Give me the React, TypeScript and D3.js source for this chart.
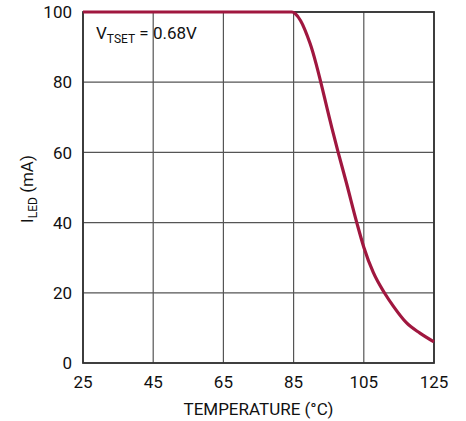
import React from "react";
import * as d3 from "d3";

const temps = [25, 84.5, 85.5, 87, 89.7, 95.9, 97.7, 100, 103, 105, 107.7, 111, 113.4, 117.2, 121, 125];
const currents = [100, 100, 99.5, 97.5, 91, 67, 60, 51.5, 40, 33, 25.8, 19.8, 16.2, 11.4, 8.5, 6];
const xTicks = [25, 45, 65, 85, 105, 125];
const yTicks = [0, 20, 40, 60, 80, 100];

const W = 466, H = 421;
const L = 83, R = 434, T = 12, B = 363;
const FONT = "'Liberation Sans Narrow', 'Roboto', 'Liberation Sans', sans-serif";

export default function App() {
  const x = d3.scaleLinear().domain([25, 125]).range([L, R]);
  const y = d3.scaleLinear().domain([0, 100]).range([B, T]);
  const data = temps.map((t, i) => [t, currents[i]] as [number, number]);
  const line = d3.line<[number, number]>().x(d => x(d[0])).y(d => y(d[1])).curve(d3.curveMonotoneX);

  return (
    <svg width={W} height={H} style={{ position: "absolute", left: 0, top: 0, background: "#fff" }} fontFamily={FONT}>
      {xTicks.map(t => (
        <line key={"gx" + t} x1={x(t)} x2={x(t)} y1={T} y2={B} stroke="#555" strokeWidth={1.2} />
      ))}
      {yTicks.map(t => (
        <line key={"gy" + t} x1={L} x2={R} y1={y(t)} y2={y(t)} stroke="#555" strokeWidth={1.2} />
      ))}
      <rect x={L} y={T} width={R - L} height={B - T} fill="none" stroke="#333" strokeWidth={1.8} />
      <path d={line(data) || ""} fill="none" stroke="#a0173f" strokeWidth={3.2} strokeLinejoin="round" />
      {yTicks.map(t => (
        <text key={"ly" + t} x={72} y={y(t)} dy="0.36em" textAnchor="end" fontSize={17} fill="#111">{t}</text>
      ))}
      {xTicks.map(t => (
        <text key={"lx" + t} x={x(t)} y={388} textAnchor="middle" fontSize={17} fill="#111">{t}</text>
      ))}
      <text x={(L + R) / 2} y={415} textAnchor="middle" fontSize={17} fill="#111">TEMPERATURE (°C)</text>
      <text transform={`translate(33, 189) rotate(-90)`} textAnchor="middle" fontSize={17} fill="#111">
        I<tspan fontSize={12} dy={4}>LED</tspan><tspan dy={-4}> (mA)</tspan>
      </text>
      <text x={96} y={39} fontSize={17} fill="#111">
        V<tspan fontSize={12} dy={4}>TSET</tspan><tspan dy={-4}> = 0.68V</tspan>
      </text>
    </svg>
  );
}
